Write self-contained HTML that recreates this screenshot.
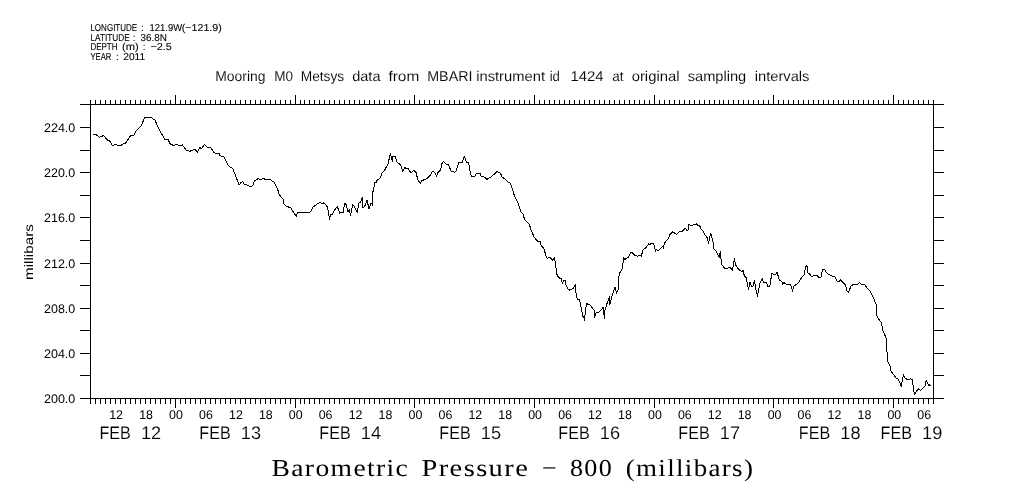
<!DOCTYPE html>
<html><head><meta charset="utf-8"><title>Barometric Pressure - 800 (millibars)</title>
<style>
html,body{margin:0;padding:0;background:#fff;}
body{width:1009px;height:504px;overflow:hidden;}
svg{display:block;}
text{text-rendering:geometricPrecision;}
.sans text{font-family:"Liberation Sans",sans-serif;fill:#000;}
.sans text.h{stroke:#000;stroke-width:0.1px;}
.sans text.t{stroke:#fff;stroke-width:0.1px;}
.sans text.d{stroke:#fff;stroke-width:0.12px;}
.serif text{font-family:"Liberation Serif",serif;fill:#000;}
</style></head><body>
<svg width="1009" height="504" viewBox="0 0 1009 504">
<rect width="1009" height="504" fill="#fff"/>
<path d="M80 104.5H944M80 398.5H944M90.5 104.0V399.0M933.5 104.0V399.0M80 398.5H91M933 398.5H944M80 375.5H91M933 375.5H944M80 353.5H91M933 353.5H944M80 330.5H91M933 330.5H944M80 308.5H91M933 308.5H944M80 285.5H91M933 285.5H944M80 263.5H91M933 263.5H944M80 240.5H91M933 240.5H944M80 217.5H91M933 217.5H944M80 195.5H91M933 195.5H944M80 172.5H91M933 172.5H944M80 150.5H91M933 150.5H944M80 127.5H91M933 127.5H944M80 104.5H91M933 104.5H944M90.5 100V104.5M90.5 398.5V404M95.5 100V104.5M95.5 398.5V404M100.5 100V104.5M100.5 398.5V404M105.5 100V104.5M105.5 398.5V404M110.5 100V104.5M110.5 398.5V404M115.5 100V104.5M115.5 398.5V404M120.5 100V104.5M120.5 398.5V404M125.5 100V104.5M125.5 398.5V404M130.5 100V104.5M130.5 398.5V404M135.5 100V104.5M135.5 398.5V404M140.5 100V104.5M140.5 398.5V404M145.5 100V104.5M145.5 398.5V404M150.5 100V104.5M150.5 398.5V404M155.5 100V104.5M155.5 398.5V404M160.5 100V104.5M160.5 398.5V404M165.5 100V104.5M165.5 398.5V404M170.5 100V104.5M170.5 398.5V404M175.5 95V104.5M175.5 398.5V408M180.5 100V104.5M180.5 398.5V404M185.5 100V104.5M185.5 398.5V404M190.5 100V104.5M190.5 398.5V404M195.5 100V104.5M195.5 398.5V404M200.5 100V104.5M200.5 398.5V404M205.5 100V104.5M205.5 398.5V404M210.5 100V104.5M210.5 398.5V404M215.5 100V104.5M215.5 398.5V404M220.5 100V104.5M220.5 398.5V404M225.5 100V104.5M225.5 398.5V404M230.5 100V104.5M230.5 398.5V404M235.5 100V104.5M235.5 398.5V404M240.5 100V104.5M240.5 398.5V404M245.5 100V104.5M245.5 398.5V404M250.5 100V104.5M250.5 398.5V404M255.5 100V104.5M255.5 398.5V404M260.5 100V104.5M260.5 398.5V404M265.5 100V104.5M265.5 398.5V404M270.5 100V104.5M270.5 398.5V404M275.5 100V104.5M275.5 398.5V404M280.5 100V104.5M280.5 398.5V404M285.5 100V104.5M285.5 398.5V404M290.5 100V104.5M290.5 398.5V404M295.5 95V104.5M295.5 398.5V408M300.5 100V104.5M300.5 398.5V404M304.5 100V104.5M304.5 398.5V404M309.5 100V104.5M309.5 398.5V404M314.5 100V104.5M314.5 398.5V404M319.5 100V104.5M319.5 398.5V404M324.5 100V104.5M324.5 398.5V404M329.5 100V104.5M329.5 398.5V404M334.5 100V104.5M334.5 398.5V404M339.5 100V104.5M339.5 398.5V404M344.5 100V104.5M344.5 398.5V404M349.5 100V104.5M349.5 398.5V404M354.5 100V104.5M354.5 398.5V404M359.5 100V104.5M359.5 398.5V404M364.5 100V104.5M364.5 398.5V404M369.5 100V104.5M369.5 398.5V404M374.5 100V104.5M374.5 398.5V404M379.5 100V104.5M379.5 398.5V404M384.5 100V104.5M384.5 398.5V404M389.5 100V104.5M389.5 398.5V404M394.5 100V104.5M394.5 398.5V404M399.5 100V104.5M399.5 398.5V404M404.5 100V104.5M404.5 398.5V404M409.5 100V104.5M409.5 398.5V404M414.5 95V104.5M414.5 398.5V408M419.5 100V104.5M419.5 398.5V404M424.5 100V104.5M424.5 398.5V404M429.5 100V104.5M429.5 398.5V404M434.5 100V104.5M434.5 398.5V404M439.5 100V104.5M439.5 398.5V404M444.5 100V104.5M444.5 398.5V404M449.5 100V104.5M449.5 398.5V404M454.5 100V104.5M454.5 398.5V404M459.5 100V104.5M459.5 398.5V404M464.5 100V104.5M464.5 398.5V404M469.5 100V104.5M469.5 398.5V404M474.5 100V104.5M474.5 398.5V404M479.5 100V104.5M479.5 398.5V404M484.5 100V104.5M484.5 398.5V404M489.5 100V104.5M489.5 398.5V404M494.5 100V104.5M494.5 398.5V404M499.5 100V104.5M499.5 398.5V404M504.5 100V104.5M504.5 398.5V404M509.5 100V104.5M509.5 398.5V404M514.5 100V104.5M514.5 398.5V404M519.5 100V104.5M519.5 398.5V404M524.5 100V104.5M524.5 398.5V404M529.5 100V104.5M529.5 398.5V404M534.5 95V104.5M534.5 398.5V408M539.5 100V104.5M539.5 398.5V404M544.5 100V104.5M544.5 398.5V404M549.5 100V104.5M549.5 398.5V404M554.5 100V104.5M554.5 398.5V404M559.5 100V104.5M559.5 398.5V404M564.5 100V104.5M564.5 398.5V404M569.5 100V104.5M569.5 398.5V404M574.5 100V104.5M574.5 398.5V404M579.5 100V104.5M579.5 398.5V404M584.5 100V104.5M584.5 398.5V404M589.5 100V104.5M589.5 398.5V404M594.5 100V104.5M594.5 398.5V404M599.5 100V104.5M599.5 398.5V404M604.5 100V104.5M604.5 398.5V404M609.5 100V104.5M609.5 398.5V404M614.5 100V104.5M614.5 398.5V404M619.5 100V104.5M619.5 398.5V404M624.5 100V104.5M624.5 398.5V404M629.5 100V104.5M629.5 398.5V404M634.5 100V104.5M634.5 398.5V404M639.5 100V104.5M639.5 398.5V404M644.5 100V104.5M644.5 398.5V404M649.5 100V104.5M649.5 398.5V404M654.5 95V104.5M654.5 398.5V408M659.5 100V104.5M659.5 398.5V404M664.5 100V104.5M664.5 398.5V404M669.5 100V104.5M669.5 398.5V404M674.5 100V104.5M674.5 398.5V404M679.5 100V104.5M679.5 398.5V404M684.5 100V104.5M684.5 398.5V404M689.5 100V104.5M689.5 398.5V404M694.5 100V104.5M694.5 398.5V404M699.5 100V104.5M699.5 398.5V404M704.5 100V104.5M704.5 398.5V404M709.5 100V104.5M709.5 398.5V404M714.5 100V104.5M714.5 398.5V404M719.5 100V104.5M719.5 398.5V404M723.5 100V104.5M723.5 398.5V404M728.5 100V104.5M728.5 398.5V404M733.5 100V104.5M733.5 398.5V404M738.5 100V104.5M738.5 398.5V404M743.5 100V104.5M743.5 398.5V404M748.5 100V104.5M748.5 398.5V404M753.5 100V104.5M753.5 398.5V404M758.5 100V104.5M758.5 398.5V404M763.5 100V104.5M763.5 398.5V404M768.5 100V104.5M768.5 398.5V404M773.5 95V104.5M773.5 398.5V408M778.5 100V104.5M778.5 398.5V404M783.5 100V104.5M783.5 398.5V404M788.5 100V104.5M788.5 398.5V404M793.5 100V104.5M793.5 398.5V404M798.5 100V104.5M798.5 398.5V404M803.5 100V104.5M803.5 398.5V404M808.5 100V104.5M808.5 398.5V404M813.5 100V104.5M813.5 398.5V404M818.5 100V104.5M818.5 398.5V404M823.5 100V104.5M823.5 398.5V404M828.5 100V104.5M828.5 398.5V404M833.5 100V104.5M833.5 398.5V404M838.5 100V104.5M838.5 398.5V404M843.5 100V104.5M843.5 398.5V404M848.5 100V104.5M848.5 398.5V404M853.5 100V104.5M853.5 398.5V404M858.5 100V104.5M858.5 398.5V404M863.5 100V104.5M863.5 398.5V404M868.5 100V104.5M868.5 398.5V404M873.5 100V104.5M873.5 398.5V404M878.5 100V104.5M878.5 398.5V404M883.5 100V104.5M883.5 398.5V404M888.5 100V104.5M888.5 398.5V404M893.5 95V104.5M893.5 398.5V408M898.5 100V104.5M898.5 398.5V404M903.5 100V104.5M903.5 398.5V404M908.5 100V104.5M908.5 398.5V404M913.5 100V104.5M913.5 398.5V404M918.5 100V104.5M918.5 398.5V404M923.5 100V104.5M923.5 398.5V404M928.5 100V104.5M928.5 398.5V404M933.5 100V104.5M933.5 398.5V404" stroke="#000" stroke-width="1" fill="none" shape-rendering="crispEdges"/>
<polyline points="93.1,134.0 95.6,134.4 99.4,137.2 103.5,135.6 107.5,140.0 110.0,141.2 112.5,145.6 115.6,144.4 120.0,146.0 123.8,143.5 125.6,143.1 130.6,135.6 133.8,135.6 136.2,130.6 141.2,125.6 144.8,117.5 150.6,117.2 155.0,120.2 160.0,131.2 165.0,139.4 168.1,139.4 170.0,143.8 173.8,145.6 176.2,144.4 180.6,146.0 182.5,145.0 186.2,150.0 190.0,151.2 190.0,151.2 195.0,149.4 197.5,152.2 200.0,147.5 201.2,149.0 204.4,144.4 207.5,147.2 210.6,147.2 213.8,152.5 218.1,154.0 219.0,153.5 220.0,155.6 223.8,156.9 228.1,165.0 230.0,167.2 232.5,168.1 235.6,175.6 239.1,185.2 241.0,182.2 243.1,181.9 243.8,184.0 246.2,184.4 249.4,186.2 252.5,186.0 254.4,181.2 258.1,178.5 260.6,179.8 263.1,178.1 265.6,179.8 270.0,179.4 274.4,182.5 277.5,188.8 279.4,195.0 283.1,199.0 283.8,203.5 286.2,206.5 290.6,207.5 294.4,213.8 296.2,216.2 298.1,211.9 300.0,213.1 302.5,212.2 306.9,212.5 308.1,213.1 311.2,211.0 313.1,206.9 316.2,204.8 320.0,202.2 321.9,203.8 323.8,202.8 326.9,206.2 328.5,211.2 329.4,219.4 330.6,214.4 332.5,214.4 335.0,209.4 337.2,206.5 339.8,213.1 342.5,212.5 343.1,213.1 344.6,203.5 346.2,204.4 348.1,211.9 349.4,210.0 350.6,215.2 352.8,204.4 355.6,208.8 357.2,212.5 359.0,203.1 360.6,201.9 362.2,197.5 362.8,208.1 365.0,205.6 366.9,200.0 369.0,208.5 371.0,202.8 372.5,205.0 372.8,192.5 375.0,182.5 376.2,183.1 376.9,180.6 380.6,177.5 381.9,173.1 384.4,170.6 388.1,163.8 390.4,153.1 392.2,161.2 392.8,156.2 395.0,156.2 396.9,161.9 400.6,165.0 402.8,171.2 404.8,167.8 408.1,168.8 411.2,173.1 413.5,170.2 416.2,172.5 417.5,178.8 420.4,183.8 421.2,181.2 427.5,178.1 430.6,175.0 432.5,171.2 435.0,172.8 436.6,176.2 437.5,172.8 440.6,170.0 441.9,163.8 443.5,161.2 445.6,163.8 448.1,164.4 451.2,171.2 453.1,171.9 455.0,172.2 456.2,170.6 459.0,162.5 462.2,162.2 464.4,156.2 466.5,162.5 468.5,162.5 470.0,171.2 471.5,176.2 475.0,176.2 476.2,173.8 480.0,173.5 481.2,176.0 484.8,177.5 486.9,179.4 491.2,176.9 497.1,171.5 500.6,173.5 501.9,176.9 504.4,178.5 508.8,182.5 510.4,183.1 514.0,194.4 515.0,196.9 517.8,202.5 520.6,211.2 523.1,214.4 524.4,218.8 525.0,220.0 529.4,224.4 531.2,230.6 534.4,237.5 537.5,241.2 540.0,241.5 541.2,245.6 543.5,247.8 546.2,256.2 547.2,258.1 550.0,257.5 552.8,260.2 554.4,257.5 555.6,265.0 556.9,274.4 558.5,277.5 561.2,278.8 562.5,283.5 563.8,280.6 565.2,280.6 566.2,285.6 568.1,289.4 570.0,290.2 572.8,288.8 575.2,284.8 576.5,297.5 577.8,299.4 579.4,299.4 580.6,305.0 582.8,316.2 583.8,316.2 584.4,320.6 585.6,308.8 586.9,303.8 590.0,304.8 592.5,308.1 594.6,310.6 594.6,317.5 596.0,313.1 598.8,312.5 601.2,310.0 603.1,307.5 604.4,318.8 604.8,311.2 606.9,303.8 609.4,296.9 609.8,305.0 611.9,296.2 615.0,286.9 616.5,293.1 618.1,290.0 618.5,277.5 620.0,272.5 622.2,268.8 623.8,257.5 625.0,259.4 628.8,256.9 630.6,252.2 632.2,252.5 634.4,255.0 637.5,256.2 638.8,255.0 641.2,256.2 643.1,250.0 646.2,247.5 648.8,243.8 649.4,245.0 651.2,243.1 653.8,243.8 655.6,251.2 656.5,249.4 658.1,251.2 663.1,245.6 663.5,248.1 664.4,243.1 668.1,238.8 670.0,234.4 672.5,231.9 676.9,234.4 679.4,231.2 682.5,231.2 685.6,228.1 686.9,230.6 688.1,230.0 689.0,224.4 690.6,225.6 694.4,224.8 696.5,223.5 697.5,225.6 699.6,225.6 701.2,229.4 703.1,231.2 705.0,235.0 707.5,238.1 708.5,243.5 710.6,233.1 713.1,241.9 714.0,248.8 716.2,251.2 719.4,257.5 720.2,251.2 721.0,258.8 721.9,265.0 725.0,268.5 727.5,268.1 730.0,267.5 732.5,270.0 734.4,258.1 735.6,265.0 738.1,268.8 741.9,271.9 743.1,270.6 744.4,276.2 746.2,277.5 748.5,289.4 750.0,281.9 751.5,286.2 753.1,286.2 754.4,280.6 755.6,288.1 757.5,296.2 759.8,283.1 762.2,278.8 763.8,282.5 766.0,281.9 767.8,286.2 769.8,286.0 771.9,273.1 773.8,274.4 775.6,274.4 777.1,272.5 779.4,280.0 781.9,281.9 782.5,285.0 783.8,282.5 786.9,284.4 790.0,284.0 791.5,286.9 792.5,291.2 794.0,286.0 798.8,282.5 801.9,276.9 804.4,274.4 805.6,266.2 806.9,265.6 807.8,273.1 809.4,273.8 811.9,277.2 813.8,275.2 817.2,275.0 818.5,277.2 821.0,277.2 822.5,270.0 824.4,269.4 827.5,273.8 832.5,276.2 835.0,276.9 836.9,281.2 838.5,281.9 840.6,280.0 842.5,281.9 845.6,285.0 846.9,291.2 848.5,292.2 851.2,285.6 853.8,284.4 858.1,284.0 859.4,282.5 861.2,284.0 865.0,284.8 866.9,288.1 870.6,291.9 873.1,296.9 876.5,305.6 876.5,314.4 877.5,317.5 881.2,322.5 883.1,331.2 886.2,338.1 886.9,350.0 887.5,360.6 890.0,366.2 890.6,370.6 896.2,378.1 898.1,378.8 901.2,386.2 901.9,382.5 903.5,374.4 904.4,377.5 908.1,380.0 910.6,378.8 912.2,379.4 913.1,385.0 914.4,395.0 918.1,388.8 920.6,390.6 925.0,386.2 926.2,380.0 928.5,385.6 929.4,385.0 930.6,385.6" stroke="#000" stroke-width="1" fill="none" stroke-linejoin="round" shape-rendering="crispEdges"/>
<g class="sans">
<text x="90.39999999999999" y="30.9" font-size="10.0" text-anchor="start" textLength="46.8" lengthAdjust="spacingAndGlyphs" class="h">LONGITUDE</text>
<text x="142.5" y="30.9" font-size="10.0" text-anchor="middle" class="h">:</text>
<text x="149.6" y="30.9" font-size="10.0" text-anchor="start" textLength="32.5" lengthAdjust="spacingAndGlyphs" class="h">121.9W</text>
<text x="181.79999999999998" y="30.9" font-size="10.0" text-anchor="start" textLength="40.0" lengthAdjust="spacingAndGlyphs" class="h">(−121.9)</text>
<text x="90.39999999999999" y="40.6" font-size="10.0" text-anchor="start" textLength="39.3" lengthAdjust="spacingAndGlyphs" class="h">LATITUDE</text>
<text x="134.2" y="40.6" font-size="10.0" text-anchor="middle" class="h">:</text>
<text x="140.4" y="40.6" font-size="10.0" text-anchor="start" textLength="26.4" lengthAdjust="spacingAndGlyphs" class="h">36.8N</text>
<text x="90.39999999999999" y="50.3" font-size="10.0" text-anchor="start" textLength="27.1" lengthAdjust="spacingAndGlyphs" class="h">DEPTH</text>
<text x="122.1" y="50.3" font-size="10.0" text-anchor="start" textLength="16.7" lengthAdjust="spacingAndGlyphs" class="h">(m)</text>
<text x="144.2" y="50.3" font-size="10.0" text-anchor="middle" class="h">:</text>
<text x="150.4" y="50.3" font-size="10.0" text-anchor="start" textLength="21.4" lengthAdjust="spacingAndGlyphs" class="h">−2.5</text>
<text x="90.39999999999999" y="60.0" font-size="10.0" text-anchor="start" textLength="20.9" lengthAdjust="spacingAndGlyphs" class="h">YEAR</text>
<text x="117.5" y="60.0" font-size="10.0" text-anchor="middle" class="h">:</text>
<text x="123.3" y="60.0" font-size="10.0" text-anchor="start" textLength="21.9" lengthAdjust="spacingAndGlyphs" class="h">2011</text>
<text x="215.2" y="81.0" font-size="14.1" text-anchor="start" textLength="50.3" lengthAdjust="spacingAndGlyphs" class="t">Mooring</text>
<text x="274.2" y="81.0" font-size="14.1" text-anchor="start" textLength="18.8" lengthAdjust="spacingAndGlyphs" class="t">M0</text>
<text x="300.7" y="81.0" font-size="14.1" text-anchor="start" textLength="43.55" lengthAdjust="spacingAndGlyphs" class="t">Metsys</text>
<text x="352.2" y="81.0" font-size="14.1" text-anchor="start" textLength="28.3" lengthAdjust="spacingAndGlyphs" class="t">data</text>
<text x="388.45" y="81.0" font-size="14.1" text-anchor="start" textLength="30.8" lengthAdjust="spacingAndGlyphs" class="t">from</text>
<text x="427.2" y="81.0" font-size="14.1" text-anchor="start" textLength="45.3" lengthAdjust="spacingAndGlyphs" class="t">MBARI</text>
<text x="476.2" y="81.0" font-size="14.1" text-anchor="start" textLength="68.8" lengthAdjust="spacingAndGlyphs" class="t">instrument</text>
<text x="549.7" y="81.0" font-size="14.1" text-anchor="start" textLength="10.3" lengthAdjust="spacingAndGlyphs" class="t">id</text>
<text x="570.45" y="81.0" font-size="14.1" text-anchor="start" textLength="33.05" lengthAdjust="spacingAndGlyphs" class="t">1424</text>
<text x="612.2" y="81.0" font-size="14.1" text-anchor="start" textLength="11.3" lengthAdjust="spacingAndGlyphs" class="t">at</text>
<text x="631.7" y="81.0" font-size="14.1" text-anchor="start" textLength="47.8" lengthAdjust="spacingAndGlyphs" class="t">original</text>
<text x="687.7" y="81.0" font-size="14.1" text-anchor="start" textLength="58.55" lengthAdjust="spacingAndGlyphs" class="t">sampling</text>
<text x="754.7" y="81.0" font-size="14.1" text-anchor="start" textLength="54.8" lengthAdjust="spacingAndGlyphs" class="t">intervals</text>
<text x="75.3" y="403.0" font-size="12.5" text-anchor="end">200.0</text>
<text x="75.3" y="358.0" font-size="12.5" text-anchor="end">204.0</text>
<text x="75.3" y="313.0" font-size="12.5" text-anchor="end">208.0</text>
<text x="75.3" y="268.0" font-size="12.5" text-anchor="end">212.0</text>
<text x="75.3" y="222.0" font-size="12.5" text-anchor="end">216.0</text>
<text x="75.3" y="177.0" font-size="12.5" text-anchor="end">220.0</text>
<text x="75.3" y="132.0" font-size="12.5" text-anchor="end">224.0</text>
<text transform="translate(33.3,252.1) rotate(-90)" font-size="12.3" text-anchor="middle" textLength="55.8" lengthAdjust="spacingAndGlyphs">millibars</text>
<text x="116.1" y="418.8" font-size="12.6" text-anchor="middle" textLength="13.8" lengthAdjust="spacingAndGlyphs">12</text>
<text x="146.1" y="418.8" font-size="12.6" text-anchor="middle" textLength="13.8" lengthAdjust="spacingAndGlyphs">18</text>
<text x="176.0" y="418.8" font-size="12.6" text-anchor="middle" textLength="13.8" lengthAdjust="spacingAndGlyphs">00</text>
<text x="205.9" y="418.8" font-size="12.6" text-anchor="middle" textLength="13.8" lengthAdjust="spacingAndGlyphs">06</text>
<text x="235.9" y="418.8" font-size="12.6" text-anchor="middle" textLength="13.8" lengthAdjust="spacingAndGlyphs">12</text>
<text x="265.8" y="418.8" font-size="12.6" text-anchor="middle" textLength="13.8" lengthAdjust="spacingAndGlyphs">18</text>
<text x="295.7" y="418.8" font-size="12.6" text-anchor="middle" textLength="13.8" lengthAdjust="spacingAndGlyphs">00</text>
<text x="325.6" y="418.8" font-size="12.6" text-anchor="middle" textLength="13.8" lengthAdjust="spacingAndGlyphs">06</text>
<text x="355.6" y="418.8" font-size="12.6" text-anchor="middle" textLength="13.8" lengthAdjust="spacingAndGlyphs">12</text>
<text x="385.5" y="418.8" font-size="12.6" text-anchor="middle" textLength="13.8" lengthAdjust="spacingAndGlyphs">18</text>
<text x="415.4" y="418.8" font-size="12.6" text-anchor="middle" textLength="13.8" lengthAdjust="spacingAndGlyphs">00</text>
<text x="445.4" y="418.8" font-size="12.6" text-anchor="middle" textLength="13.8" lengthAdjust="spacingAndGlyphs">06</text>
<text x="475.3" y="418.8" font-size="12.6" text-anchor="middle" textLength="13.8" lengthAdjust="spacingAndGlyphs">12</text>
<text x="505.2" y="418.8" font-size="12.6" text-anchor="middle" textLength="13.8" lengthAdjust="spacingAndGlyphs">18</text>
<text x="535.1" y="418.8" font-size="12.6" text-anchor="middle" textLength="13.8" lengthAdjust="spacingAndGlyphs">00</text>
<text x="565.1" y="418.8" font-size="12.6" text-anchor="middle" textLength="13.8" lengthAdjust="spacingAndGlyphs">06</text>
<text x="595.0" y="418.8" font-size="12.6" text-anchor="middle" textLength="13.8" lengthAdjust="spacingAndGlyphs">12</text>
<text x="624.9" y="418.8" font-size="12.6" text-anchor="middle" textLength="13.8" lengthAdjust="spacingAndGlyphs">18</text>
<text x="654.9" y="418.8" font-size="12.6" text-anchor="middle" textLength="13.8" lengthAdjust="spacingAndGlyphs">00</text>
<text x="684.8" y="418.8" font-size="12.6" text-anchor="middle" textLength="13.8" lengthAdjust="spacingAndGlyphs">06</text>
<text x="714.7" y="418.8" font-size="12.6" text-anchor="middle" textLength="13.8" lengthAdjust="spacingAndGlyphs">12</text>
<text x="744.6" y="418.8" font-size="12.6" text-anchor="middle" textLength="13.8" lengthAdjust="spacingAndGlyphs">18</text>
<text x="774.6" y="418.8" font-size="12.6" text-anchor="middle" textLength="13.8" lengthAdjust="spacingAndGlyphs">00</text>
<text x="804.5" y="418.8" font-size="12.6" text-anchor="middle" textLength="13.8" lengthAdjust="spacingAndGlyphs">06</text>
<text x="834.4" y="418.8" font-size="12.6" text-anchor="middle" textLength="13.8" lengthAdjust="spacingAndGlyphs">12</text>
<text x="864.4" y="418.8" font-size="12.6" text-anchor="middle" textLength="13.8" lengthAdjust="spacingAndGlyphs">18</text>
<text x="894.3" y="418.8" font-size="12.6" text-anchor="middle" textLength="13.8" lengthAdjust="spacingAndGlyphs">00</text>
<text x="924.2" y="418.8" font-size="12.6" text-anchor="middle" textLength="13.8" lengthAdjust="spacingAndGlyphs">06</text>
<text x="99.39999999999999" y="438.8" font-size="18.1" text-anchor="start" textLength="31.4" lengthAdjust="spacingAndGlyphs" class="d">FEB</text>
<text x="140.89999999999998" y="438.8" font-size="18.1" text-anchor="start" textLength="20.2" lengthAdjust="spacingAndGlyphs" class="d">12</text>
<text x="199.3" y="438.8" font-size="18.1" text-anchor="start" textLength="31.4" lengthAdjust="spacingAndGlyphs" class="d">FEB</text>
<text x="240.8" y="438.8" font-size="18.1" text-anchor="start" textLength="20.2" lengthAdjust="spacingAndGlyphs" class="d">13</text>
<text x="319.3" y="438.8" font-size="18.1" text-anchor="start" textLength="31.4" lengthAdjust="spacingAndGlyphs" class="d">FEB</text>
<text x="360.8" y="438.8" font-size="18.1" text-anchor="start" textLength="20.2" lengthAdjust="spacingAndGlyphs" class="d">14</text>
<text x="439.3" y="438.8" font-size="18.1" text-anchor="start" textLength="31.4" lengthAdjust="spacingAndGlyphs" class="d">FEB</text>
<text x="480.8" y="438.8" font-size="18.1" text-anchor="start" textLength="20.2" lengthAdjust="spacingAndGlyphs" class="d">15</text>
<text x="558.3" y="438.8" font-size="18.1" text-anchor="start" textLength="31.4" lengthAdjust="spacingAndGlyphs" class="d">FEB</text>
<text x="599.8" y="438.8" font-size="18.1" text-anchor="start" textLength="20.2" lengthAdjust="spacingAndGlyphs" class="d">16</text>
<text x="678.3" y="438.8" font-size="18.1" text-anchor="start" textLength="31.4" lengthAdjust="spacingAndGlyphs" class="d">FEB</text>
<text x="719.8" y="438.8" font-size="18.1" text-anchor="start" textLength="20.2" lengthAdjust="spacingAndGlyphs" class="d">17</text>
<text x="798.8" y="438.8" font-size="18.1" text-anchor="start" textLength="31.4" lengthAdjust="spacingAndGlyphs" class="d">FEB</text>
<text x="840.3" y="438.8" font-size="18.1" text-anchor="start" textLength="20.2" lengthAdjust="spacingAndGlyphs" class="d">18</text>
<text x="880.55" y="438.8" font-size="18.1" text-anchor="start" textLength="31.4" lengthAdjust="spacingAndGlyphs" class="d">FEB</text>
<text x="922.05" y="438.8" font-size="18.1" text-anchor="start" textLength="20.2" lengthAdjust="spacingAndGlyphs" class="d">19</text>
</g>
<g class="serif">
<text x="271.5" y="476.2" font-size="24.3" text-anchor="start" textLength="137.7" lengthAdjust="spacingAndGlyphs" letter-spacing="1.2">Barometric</text>
<text x="421.5" y="476.2" font-size="24.3" text-anchor="start" textLength="107.7" lengthAdjust="spacingAndGlyphs" letter-spacing="1.2">Pressure</text>
<text x="542.0" y="476.2" font-size="24.3" text-anchor="start" textLength="15.95" lengthAdjust="spacingAndGlyphs" letter-spacing="1.2">−</text>
<text x="570.0" y="476.2" font-size="24.3" text-anchor="start" textLength="42.95" lengthAdjust="spacingAndGlyphs" letter-spacing="1.2">800</text>
<text x="625.75" y="476.2" font-size="24.3" text-anchor="start" textLength="128.45" lengthAdjust="spacingAndGlyphs" letter-spacing="1.2">(millibars)</text>
</g>
</svg>
</body></html>
